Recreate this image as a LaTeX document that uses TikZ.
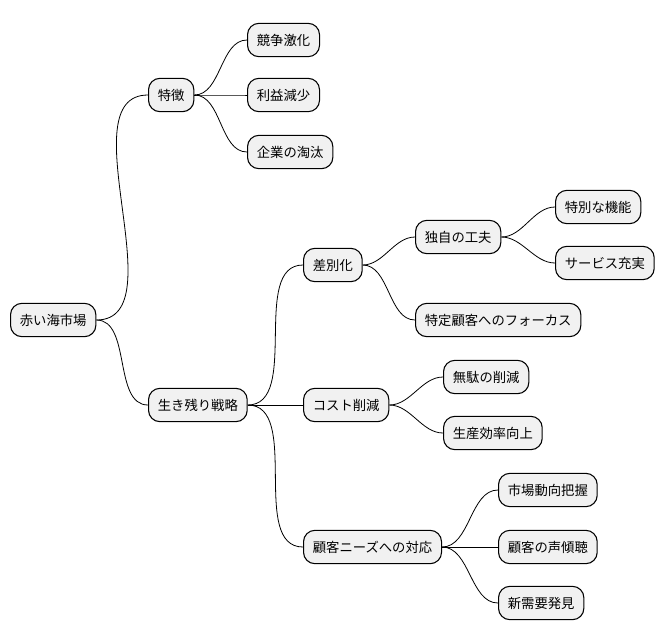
\documentclass[tikz,border=0pt]{standalone}
\usepackage{fontspec}
\setmainfont{Noto Sans CJK JP}
\usetikzlibrary{positioning}
\definecolor{mmFill}{RGB}{241, 241, 241}
\tikzset{
    topic/.style={
        rectangle,
        rounded corners=3mm,
        draw=black,
        fill=mmFill,
        line width=0.8pt,
        font=\fontsize{10}{12}\selectfont,
        minimum height=25pt,
        inner xsep=7pt,
        anchor=west
    },
    branch/.style={
        line width=0.6pt,
        draw=black
    }
}
\begin{document}
\begin{tikzpicture}[x=0.75pt, y=-0.75pt]
  \useasboundingbox (0,0) rectangle (670,640);

  % Root and first level
  \node[topic] (root) at (10,320) {赤い海市場};
  \node[topic] (feat) at (148,95) {特徴};
  \node[topic] (surv) at (148,405) {生き残り戦略};

  % Features
  \node[topic] (comp) at (247,40) {競争激化};
  \node[topic] (prof) at (247,95) {利益減少};
  \node[topic] (weed) at (247,152) {企業の淘汰};

  % Strategies
  \node[topic] (diff) at (303,265) {差別化};
  \node[topic] (cost) at (303,405) {コスト削減};
  \node[topic] (need) at (303,547) {顧客ニーズへの対応};

  \node[topic] (own)  at (415,237) {独自の工夫};
  \node[topic] (spec) at (555,207) {特別な機能};
  \node[topic] (serv) at (555,263) {サービス充実};
  \node[topic] (focus) at (415,320) {特定顧客へのフォーカス};

  \node[topic] (waste) at (443,377) {無駄の削減};
  \node[topic] (effi)  at (443,433) {生産効率向上};

  \node[topic] (trend) at (498,490) {市場動向把握};
  \node[topic] (voice) at (498,547) {顧客の声傾聴};
  \node[topic] (newd)  at (498,603) {新需要発見};

  % Connectors
  \foreach \p/\c in {root/feat, root/surv, feat/comp, feat/prof, feat/weed,
                     surv/diff, surv/cost, surv/need, diff/own, diff/focus,
                     own/spec, own/serv, cost/waste, cost/effi,
                     need/trend, need/voice, need/newd}
    \draw[branch] (\p.east) to[out=0, in=180, looseness=0.9] (\c.west);
\end{tikzpicture}
\end{document}
